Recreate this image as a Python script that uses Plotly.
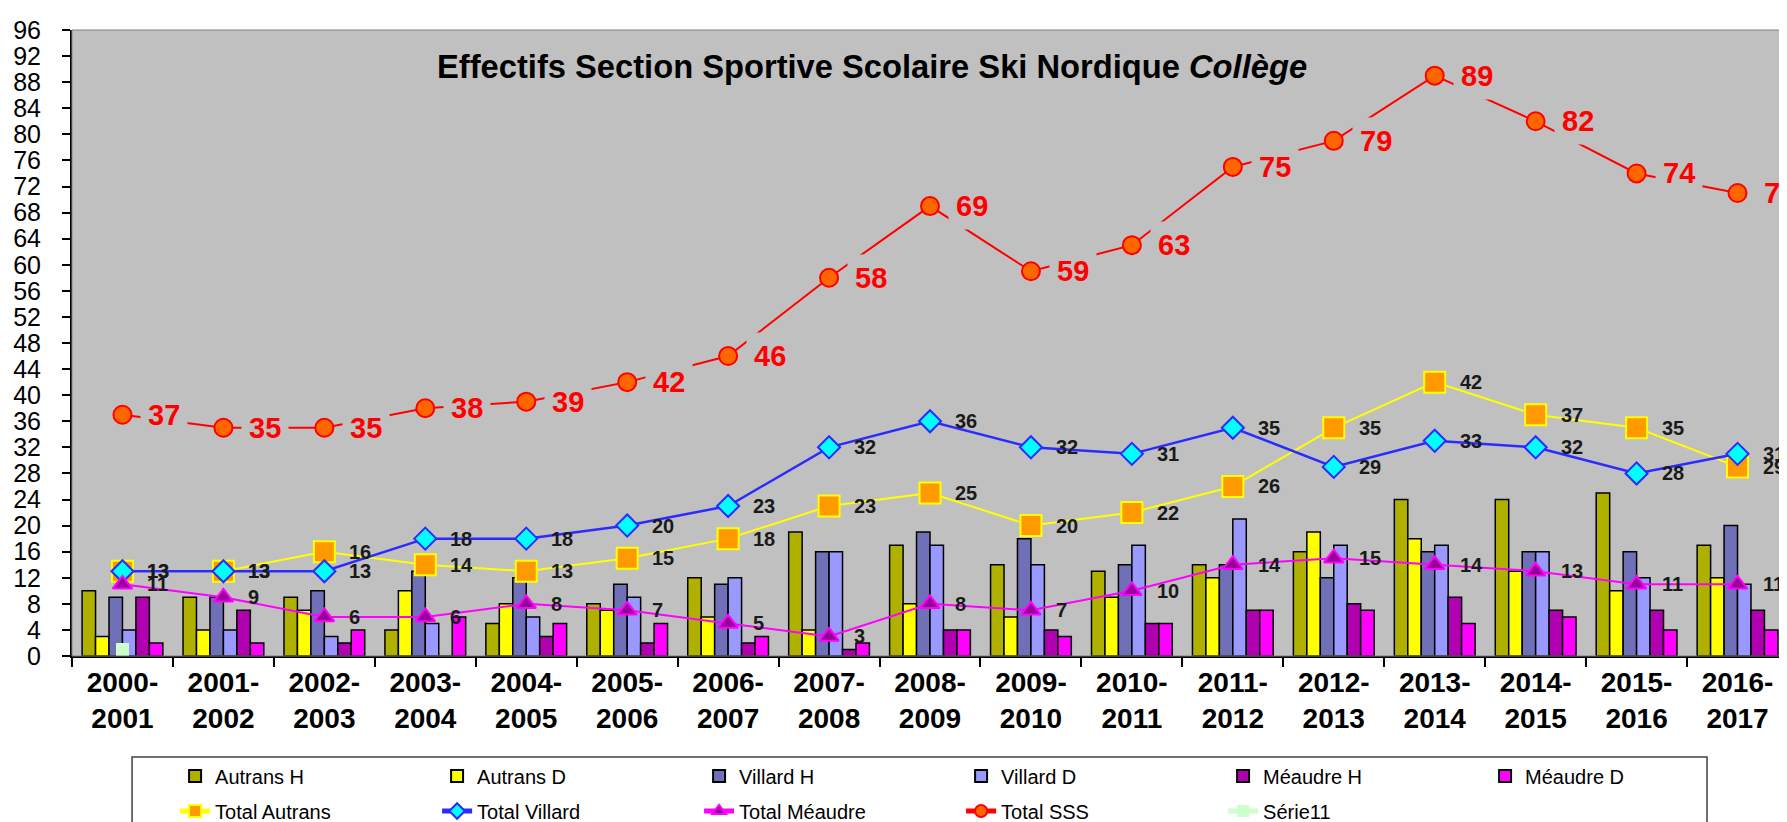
import plotly.graph_objects as go

seasons = ["2000-<br>2001", "2001-<br>2002", "2002-<br>2003", "2003-<br>2004", "2004-<br>2005",
           "2005-<br>2006", "2006-<br>2007", "2007-<br>2008", "2008-<br>2009", "2009-<br>2010",
           "2010-<br>2011", "2011-<br>2012", "2012-<br>2013", "2013-<br>2014", "2014-<br>2015",
           "2015-<br>2016", "2016-<br>2017"]

autrans_h = [10, 9, 9, 4, 5, 8, 12, 19, 17, 14, 13, 14, 16, 24, 24, 25, 17]
autrans_d = [3, 4, 7, 10, 8, 7, 6, 4, 8, 6, 9, 12, 19, 18, 13, 10, 12]
villard_h = [9, 9, 10, 13, 12, 11, 11, 16, 19, 18, 14, 14, 12, 16, 16, 16, 20]
villard_d = [4, 4, 3, 5, 6, 9, 12, 16, 17, 14, 17, 21, 17, 17, 16, 12, 11]
meaudre_h = [9, 7, 2, 0, 3, 2, 2, 1, 4, 4, 5, 7, 8, 9, 7, 7, 7]
meaudre_d = [2, 2, 4, 6, 5, 5, 3, 2, 4, 3, 5, 7, 7, 5, 6, 4, 4]

total_autrans = [13, 13, 16, 14, 13, 15, 18, 23, 25, 20, 22, 26, 35, 42, 37, 35, 29]
total_villard = [13, 13, 13, 18, 18, 20, 23, 32, 36, 32, 31, 35, 29, 33, 32, 28, 31]
total_meaudre = [11, 9, 6, 6, 8, 7, 5, 3, 8, 7, 10, 14, 15, 14, 13, 11, 11]
total_sss = [37, 35, 35, 38, 39, 42, 46, 58, 69, 59, 63, 75, 79, 89, 82, 74, 71]
serie11 = [1, None, None, None, None, None, None, None, None, None, None, None, None, None, None, None, None]

y_ticks = list(range(0, 97, 4))

FONT = "Arial, 'Liberation Sans', sans-serif"
PLOT_BG = "#C0C0C0"

fig = go.Figure()

bars = [
    ("Autrans H", autrans_h, "#B0B000"),
    ("Autrans D", autrans_d, "#FFFF00"),
    ("Villard H", villard_h, "#7070B8"),
    ("Villard D", villard_d, "#9999FF"),
    ("Méaudre H", meaudre_h, "#B000B0"),
    ("Méaudre D", meaudre_d, "#FF00FF"),
]
for name, vals, col in bars:
    fig.add_trace(go.Bar(
        x=seasons, y=vals, name=name, legend="legend",
        marker=dict(color=col, line=dict(color="#000000", width=1.5)),
    ))

lines = [
    ("Total Autrans", total_autrans, "#FFFF00", 2, "square", "#FF9900", "#FFFF00", 21),
    ("Total Villard", total_villard, "#2B2BFF", 2.5, "diamond", "#00FFFF", "#2B2BFF", 17),
    ("Total Méaudre", total_meaudre, "#FF00FF", 2, "triangle-up", "#990099", "#FF00FF", 17),
    ("Total SSS", total_sss, "#FF0000", 2, "circle", "#FF6600", "#FF0000", 18),
]
for name, vals, lc, lw, sym, fc, bc, sz in lines:
    fig.add_trace(go.Scatter(
        x=seasons, y=vals, name=name, mode="lines+markers", legend="legend2",
        line=dict(color=lc, width=lw),
        marker=dict(symbol=sym, color=fc, size=sz, line=dict(color=bc, width=2)),
    ))

fig.add_trace(go.Scatter(
    x=seasons, y=serie11, name="Série11", mode="lines+markers", legend="legend2",
    line=dict(color="#CCFFCC", width=2),
    marker=dict(symbol="square", color="#CCFFCC", size=13),
))

annotations = []
# black data labels
for vals in (total_autrans, total_villard, total_meaudre):
    for s, v in zip(seasons, vals):
        annotations.append(dict(
            x=s, y=v, xref="x", yref="y", text="<b>%d</b>" % v, showarrow=False,
            xanchor="left", yanchor="middle", xshift=23,
            font=dict(family=FONT, size=20, color="#1A1A1A"),
        ))
# red data labels with grey background
for s, v in zip(seasons, total_sss):
    annotations.append(dict(
        x=s, y=v, xref="x", yref="y", text="<b>%d</b>" % v, showarrow=False,
        xanchor="left", yanchor="middle", xshift=18,
        bgcolor=PLOT_BG, borderpad=7,
        font=dict(family=FONT, size=29, color="#FF0000"),
    ))
# title inside plot area
annotations.append(dict(
    x=0.466, y=0.942, xref="paper", yref="paper", showarrow=False,
    text="<b>Effectifs Section Sportive Scolaire Ski Nordique <i>Collège</i></b>",
    font=dict(family=FONT, size=32.7, color="#000000"),
    xanchor="center", yanchor="middle",
))

legend_common = dict(
    orientation="h", xref="container", yref="container",
    x=0.0935, xanchor="left", yanchor="middle",
    entrywidth=217, entrywidthmode="pixels",
    font=dict(family=FONT, size=20, color="#000000"),
    bgcolor="rgba(0,0,0,0)", borderwidth=0,
    itemsizing="constant", traceorder="normal",
)

fig.update_layout(
    width=1787, height=822,
    margin=dict(l=64, r=7, t=22, b=174, autoexpand=False),
    paper_bgcolor="#FFFFFF",
    plot_bgcolor=PLOT_BG,
    barmode="group", bargap=0.2, bargroupgap=0,
    font=dict(family=FONT, color="#000000"),
    annotations=annotations,
    showlegend=True,
    legend=dict(legend_common, y=1 - 768 / 822),
    legend2=dict(legend_common, y=1 - 803 / 822),
    shapes=[
        dict(type="rect", xref="paper", yref="paper", x0=0, x1=1, y0=0, y1=1,
             line=dict(color="#808080", width=1), layer="above"),
        dict(type="rect", xref="paper", yref="paper", x0=0.035, x1=0.9528, y0=-0.1613, y1=-0.40,
             line=dict(color="#404040", width=1.5), layer="above"),
    ],
)

fig.update_xaxes(
    type="category", range=[-0.5, len(seasons) - 0.5], autorange=False, automargin=False,
    showgrid=False, showline=True, linecolor="#000000", linewidth=2,
    ticks="outside", ticklen=9, tickwidth=2, tickcolor="#000000", tickson="boundaries",
    tickfont=dict(family=FONT, size=28, color="#000000"),
    tickprefix="<b>", ticksuffix="</b>",
)
fig.update_yaxes(
    range=[0, 96], tickvals=y_ticks, showgrid=False, zeroline=False, automargin=False,
    showline=True, linecolor="#000000", linewidth=2,
    ticks="outside", ticklen=8, tickwidth=2, tickcolor="#000000", ticklabelstandoff=16,
    tickfont=dict(family=FONT, size=25, color="#000000"),
)
# inner half of the crossing tick marks on the value axis
fig.update_layout(
    yaxis2=dict(overlaying="y", side="left", range=[0, 96], tickvals=y_ticks,
                ticks="inside", ticklen=8, tickwidth=2, tickcolor="#000000",
                showticklabels=False, showgrid=False, zeroline=False, showline=False,
                automargin=False),
)

fig.write_html("out.html")
